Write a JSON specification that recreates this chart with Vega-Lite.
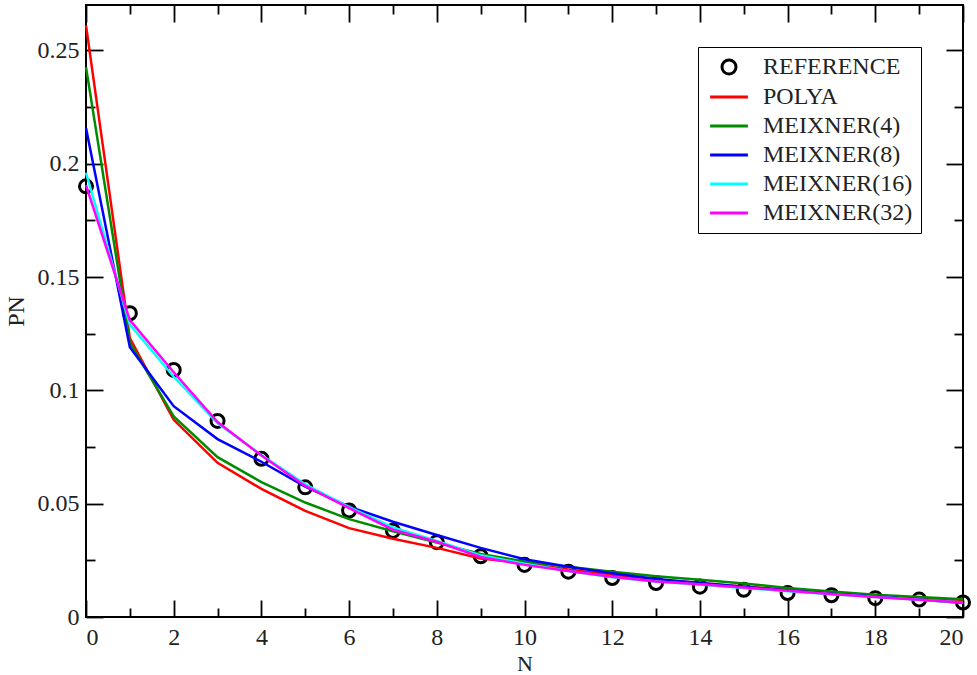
{
  "$schema": "https://vega.github.io/schema/vega-lite/v6.json",
  "width": 877,
  "height": 612,
  "autosize": "none",
  "padding": {"left": 86, "top": 5, "right": 14, "bottom": 58},
  "background": "white",
  "config": {
    "view": {"stroke": "black", "strokeWidth": 2},
    "font": "Liberation Serif",
    "axis": {"domain": false, "grid": false, "labelFont": "Liberation Serif", "titleFont": "Liberation Serif", "labelFontSize": 24, "titleFontSize": 24, "titleFontWeight": "normal", "labelColor": "#222", "titleColor": "#222", "tickColor": "black", "tickWidth": 1.8}
  },
  "data": {"values": [
    {"N":0,"PN":0.190,"series":"REFERENCE"},{"N":1,"PN":0.134,"series":"REFERENCE"},{"N":2,"PN":0.109,"series":"REFERENCE"},{"N":3,"PN":0.0865,"series":"REFERENCE"},{"N":4,"PN":0.0698,"series":"REFERENCE"},{"N":5,"PN":0.0572,"series":"REFERENCE"},{"N":6,"PN":0.0470,"series":"REFERENCE"},{"N":7,"PN":0.0380,"series":"REFERENCE"},{"N":8,"PN":0.0330,"series":"REFERENCE"},{"N":9,"PN":0.0268,"series":"REFERENCE"},{"N":10,"PN":0.0230,"series":"REFERENCE"},{"N":11,"PN":0.0200,"series":"REFERENCE"},{"N":12,"PN":0.0172,"series":"REFERENCE"},{"N":13,"PN":0.0150,"series":"REFERENCE"},{"N":14,"PN":0.0134,"series":"REFERENCE"},{"N":15,"PN":0.0120,"series":"REFERENCE"},{"N":16,"PN":0.0106,"series":"REFERENCE"},{"N":17,"PN":0.0096,"series":"REFERENCE"},{"N":18,"PN":0.0083,"series":"REFERENCE"},{"N":19,"PN":0.0077,"series":"REFERENCE"},{"N":20,"PN":0.0064,"series":"REFERENCE"},
    {"N":0,"PN":0.261,"series":"POLYA"},{"N":1,"PN":0.123,"series":"POLYA"},{"N":2,"PN":0.087,"series":"POLYA"},{"N":3,"PN":0.068,"series":"POLYA"},{"N":4,"PN":0.0565,"series":"POLYA"},{"N":5,"PN":0.0468,"series":"POLYA"},{"N":6,"PN":0.0392,"series":"POLYA"},{"N":7,"PN":0.0345,"series":"POLYA"},{"N":8,"PN":0.0305,"series":"POLYA"},{"N":9,"PN":0.0258,"series":"POLYA"},{"N":10,"PN":0.0238,"series":"POLYA"},{"N":11,"PN":0.0210,"series":"POLYA"},{"N":12,"PN":0.0185,"series":"POLYA"},{"N":13,"PN":0.0165,"series":"POLYA"},{"N":14,"PN":0.0150,"series":"POLYA"},{"N":15,"PN":0.0135,"series":"POLYA"},{"N":16,"PN":0.0120,"series":"POLYA"},{"N":17,"PN":0.0107,"series":"POLYA"},{"N":18,"PN":0.0095,"series":"POLYA"},{"N":19,"PN":0.0084,"series":"POLYA"},{"N":20,"PN":0.0074,"series":"POLYA"},
    {"N":0,"PN":0.2426,"series":"MEIXNER(4)"},{"N":1,"PN":0.121,"series":"MEIXNER(4)"},{"N":2,"PN":0.0885,"series":"MEIXNER(4)"},{"N":3,"PN":0.0705,"series":"MEIXNER(4)"},{"N":4,"PN":0.0595,"series":"MEIXNER(4)"},{"N":5,"PN":0.0505,"series":"MEIXNER(4)"},{"N":6,"PN":0.0432,"series":"MEIXNER(4)"},{"N":7,"PN":0.0378,"series":"MEIXNER(4)"},{"N":8,"PN":0.0328,"series":"MEIXNER(4)"},{"N":9,"PN":0.0278,"series":"MEIXNER(4)"},{"N":10,"PN":0.0245,"series":"MEIXNER(4)"},{"N":11,"PN":0.0222,"series":"MEIXNER(4)"},{"N":12,"PN":0.0200,"series":"MEIXNER(4)"},{"N":13,"PN":0.0180,"series":"MEIXNER(4)"},{"N":14,"PN":0.0164,"series":"MEIXNER(4)"},{"N":15,"PN":0.0148,"series":"MEIXNER(4)"},{"N":16,"PN":0.0128,"series":"MEIXNER(4)"},{"N":17,"PN":0.0113,"series":"MEIXNER(4)"},{"N":18,"PN":0.0098,"series":"MEIXNER(4)"},{"N":19,"PN":0.0088,"series":"MEIXNER(4)"},{"N":20,"PN":0.0078,"series":"MEIXNER(4)"},
    {"N":0,"PN":0.2157,"series":"MEIXNER(8)"},{"N":1,"PN":0.119,"series":"MEIXNER(8)"},{"N":2,"PN":0.0930,"series":"MEIXNER(8)"},{"N":3,"PN":0.0785,"series":"MEIXNER(8)"},{"N":4,"PN":0.0685,"series":"MEIXNER(8)"},{"N":5,"PN":0.0575,"series":"MEIXNER(8)"},{"N":6,"PN":0.0487,"series":"MEIXNER(8)"},{"N":7,"PN":0.0420,"series":"MEIXNER(8)"},{"N":8,"PN":0.0362,"series":"MEIXNER(8)"},{"N":9,"PN":0.0305,"series":"MEIXNER(8)"},{"N":10,"PN":0.0255,"series":"MEIXNER(8)"},{"N":11,"PN":0.0222,"series":"MEIXNER(8)"},{"N":12,"PN":0.0193,"series":"MEIXNER(8)"},{"N":13,"PN":0.0168,"series":"MEIXNER(8)"},{"N":14,"PN":0.0150,"series":"MEIXNER(8)"},{"N":15,"PN":0.0133,"series":"MEIXNER(8)"},{"N":16,"PN":0.0117,"series":"MEIXNER(8)"},{"N":17,"PN":0.0103,"series":"MEIXNER(8)"},{"N":18,"PN":0.0090,"series":"MEIXNER(8)"},{"N":19,"PN":0.0077,"series":"MEIXNER(8)"},{"N":20,"PN":0.0062,"series":"MEIXNER(8)"},
    {"N":0,"PN":0.196,"series":"MEIXNER(16)"},{"N":1,"PN":0.129,"series":"MEIXNER(16)"},{"N":2,"PN":0.106,"series":"MEIXNER(16)"},{"N":3,"PN":0.0855,"series":"MEIXNER(16)"},{"N":4,"PN":0.0715,"series":"MEIXNER(16)"},{"N":5,"PN":0.0585,"series":"MEIXNER(16)"},{"N":6,"PN":0.0485,"series":"MEIXNER(16)"},{"N":7,"PN":0.0395,"series":"MEIXNER(16)"},{"N":8,"PN":0.0335,"series":"MEIXNER(16)"},{"N":9,"PN":0.0272,"series":"MEIXNER(16)"},{"N":10,"PN":0.0235,"series":"MEIXNER(16)"},{"N":11,"PN":0.0203,"series":"MEIXNER(16)"},{"N":12,"PN":0.0175,"series":"MEIXNER(16)"},{"N":13,"PN":0.0157,"series":"MEIXNER(16)"},{"N":14,"PN":0.0143,"series":"MEIXNER(16)"},{"N":15,"PN":0.0128,"series":"MEIXNER(16)"},{"N":16,"PN":0.0114,"series":"MEIXNER(16)"},{"N":17,"PN":0.0100,"series":"MEIXNER(16)"},{"N":18,"PN":0.0088,"series":"MEIXNER(16)"},{"N":19,"PN":0.0076,"series":"MEIXNER(16)"},{"N":20,"PN":0.0064,"series":"MEIXNER(16)"},
    {"N":0,"PN":0.1905,"series":"MEIXNER(32)"},{"N":1,"PN":0.131,"series":"MEIXNER(32)"},{"N":2,"PN":0.108,"series":"MEIXNER(32)"},{"N":3,"PN":0.0860,"series":"MEIXNER(32)"},{"N":4,"PN":0.0712,"series":"MEIXNER(32)"},{"N":5,"PN":0.0578,"series":"MEIXNER(32)"},{"N":6,"PN":0.0480,"series":"MEIXNER(32)"},{"N":7,"PN":0.0385,"series":"MEIXNER(32)"},{"N":8,"PN":0.0332,"series":"MEIXNER(32)"},{"N":9,"PN":0.0265,"series":"MEIXNER(32)"},{"N":10,"PN":0.0230,"series":"MEIXNER(32)"},{"N":11,"PN":0.0203,"series":"MEIXNER(32)"},{"N":12,"PN":0.0178,"series":"MEIXNER(32)"},{"N":13,"PN":0.0157,"series":"MEIXNER(32)"},{"N":14,"PN":0.0145,"series":"MEIXNER(32)"},{"N":15,"PN":0.0130,"series":"MEIXNER(32)"},{"N":16,"PN":0.0116,"series":"MEIXNER(32)"},{"N":17,"PN":0.0102,"series":"MEIXNER(32)"},{"N":18,"PN":0.0088,"series":"MEIXNER(32)"},{"N":19,"PN":0.0076,"series":"MEIXNER(32)"},{"N":20,"PN":0.0064,"series":"MEIXNER(32)"}
  ]},
  "layer": [
    {
      "transform": [{"filter": "datum.series === 'REFERENCE'"}],
      "mark": {"type": "point", "filled": false, "strokeWidth": 3, "size": 170, "opacity": 1},
      "encoding": {
        "x": {"field": "N", "type": "quantitative", "scale": {"domain": [0, 20], "nice": false},
          "axis": {"orient": "bottom", "title": "N", "values": [0,1,2,3,4,5,6,7,8,9,10,11,12,13,14,15,16,17,18,19,20],
            "labelExpr": "datum.value % 2 === 0 ? datum.label : ''",
            "tickSize": {"condition": {"test": "datum.value % 2 === 0", "value": -17}, "value": -9},
            "labelPadding": 25, "titlePadding": 4, "titleFontSize": 22}},
        "y": {"field": "PN", "type": "quantitative", "scale": {"domain": [0, 0.27], "nice": false, "zero": false},
          "axis": {"orient": "left", "title": "PN", "values": [0,0.025,0.05,0.075,0.1,0.125,0.15,0.175,0.2,0.225,0.25],
            "labelExpr": "round(datum.value*1000) % 50 === 0 ? format(datum.value, '~g') : ''",
            "tickSize": {"condition": {"test": "round(datum.value*1000) % 50 === 0", "value": -17}, "value": -9},
            "labelPadding": 24, "titlePadding": 9}},
        "color": {"field": "series", "type": "nominal",
          "scale": {"domain": ["REFERENCE","POLYA","MEIXNER(4)","MEIXNER(8)","MEIXNER(16)","MEIXNER(32)"], "range": ["black","#ff0000","#008b00","#0000ff","#00ffff","#ff00ff"]},
          "legend": {"title": null, "orient": "none", "legendX": 612, "legendY": 42, "strokeColor": "black", "padding": 8, "labelFont": "Liberation Serif", "labelFontSize": 24, "labelColor": "#222", "symbolStrokeWidth": 3, "symbolSize": 196, "symbolOffset": 11, "labelOffset": 22, "rowPadding": 5}
        },
        "shape": {"field": "series", "type": "nominal",
          "scale": {"domain": ["REFERENCE","POLYA","MEIXNER(4)","MEIXNER(8)","MEIXNER(16)","MEIXNER(32)"], "range": ["circle","M-2.7,0H2.7","M-2.7,0H2.7","M-2.7,0H2.7","M-2.7,0H2.7","M-2.7,0H2.7"]}}
      }
    },
    {
      "transform": [{"filter": "datum.series !== 'REFERENCE'"}],
      "mark": {"type": "line", "strokeWidth": 2.5},
      "encoding": {
        "x": {"field": "N", "type": "quantitative",
          "axis": {"orient": "top", "title": null, "labels": false, "values": [0,1,2,3,4,5,6,7,8,9,10,11,12,13,14,15,16,17,18,19,20],
            "tickSize": {"condition": {"test": "datum.value % 2 === 0", "value": -17}, "value": -9}}},
        "y": {"field": "PN", "type": "quantitative",
          "axis": {"orient": "right", "title": null, "labels": false, "values": [0,0.025,0.05,0.075,0.1,0.125,0.15,0.175,0.2,0.225,0.25],
            "tickSize": {"condition": {"test": "round(datum.value*1000) % 50 === 0", "value": -17}, "value": -9}}},
        "color": {"field": "series", "type": "nominal", "legend": null},
        "order": {"field": "N", "type": "quantitative"}
      }
    }
  ]
}
